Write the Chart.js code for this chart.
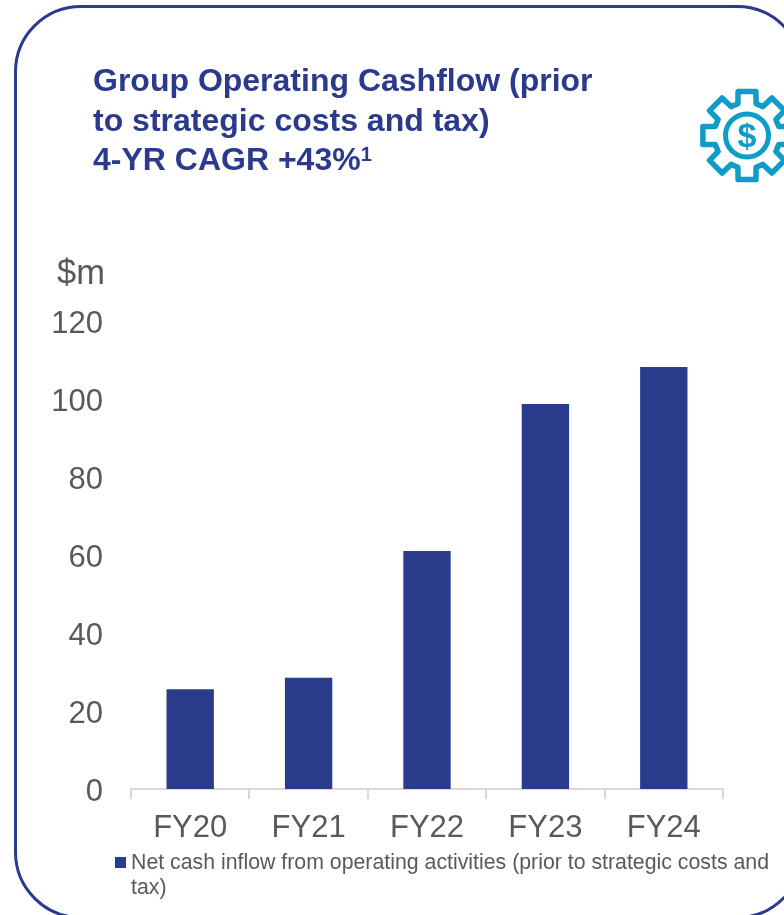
<!DOCTYPE html>
<html>
<head>
<meta charset="utf-8">
<script src="https://cdn.jsdelivr.net/npm/chart.js@4"></script>
<style>
html, body { margin: 0; padding: 0; background: #fff; }
body { width: 784px; height: 915px; position: relative; overflow: hidden; font-family: "Liberation Sans", Arial, sans-serif; }
#frame { position: absolute; left: 14px; top: 5px; width: 790px; height: 914px; border: 3px solid #2b3a8c; border-radius: 67px; box-sizing: border-box; }
#titulo { position: absolute; left: 93px; top: 61px; font-size: 32px; line-height: 39.5px; font-weight: bold; color: #2b3a8c; white-space: nowrap; }
#titulo sup { font-size: 20px; line-height: 0; vertical-align: baseline; position: relative; top: -9px; }
#unidad { position: absolute; left: 57px; top: 253px; font-size: 34.5px; color: #595959; }
#grafico { position: absolute; left: 0; top: 0; }
#icono { position: absolute; left: 680px; top: 70px; }
#leyenda { position: absolute; left: 131px; top: 850px; width: 645px; font-size: 21.3px; line-height: 25px; color: #595959; }
#leyenda i { position: absolute; left: -16px; top: 7px; width: 11px; height: 11px; }
</style>
</head>
<body>
<div id="frame"></div>
<canvas id="grafico" width="784" height="915"></canvas>
<div id="titulo">Group Operating Cashflow (prior<br>to strategic costs and tax)<br>4-YR CAGR +43%<sup>1</sup></div>
<div id="unidad">$m</div>
<svg id="icono" width="104" height="130" viewBox="0 0 104 130">
  <path id="engranaje" fill="none" stroke="#0f9dc7" stroke-width="5.5" stroke-linejoin="round"></path>
  <circle cx="67" cy="65.5" r="21.5" fill="none" stroke="#0f9dc7" stroke-width="5"></circle>
  <text x="67" y="77" text-anchor="middle" font-family="Liberation Sans" font-weight="bold" font-size="34" fill="#0f9dc7">$</text>
</svg>
<div id="leyenda"></div>

<script>
const categorias = ['FY20', 'FY21', 'FY22', 'FY23', 'FY24'];
const flujoOperativo = [25.6, 28.5, 61, 98.7, 108.2];
const nombreSerie = 'Net cash inflow from operating activities (prior to strategic costs and tax)';
const azul = '#2a3b8b';
const gris = '#595959';
const lineaEje = '#d9d9d9';

// el contorno del engranaje, ocho dientes
function dibujarEngranaje() {
    const cx = 67, cy = 65.5, rExt = 45, rInt = 33;
    let d = '';
    for (let i = 0; i < 8; i++) {
        const a = i * Math.PI / 4 - Math.PI / 2;
        const punto = (r, da) => (cx + r * Math.cos(a + da)).toFixed(1) + ' ' + (cy + r * Math.sin(a + da)).toFixed(1);
        d += (i === 0 ? 'M' : 'L') + punto(rInt, -0.28) + 'L' + punto(rExt, -0.2) + 'L' + punto(rExt, 0.2) + 'L' + punto(rInt, 0.28);
    }
    document.getElementById('engranaje').setAttribute('d', d + 'Z');
}
dibujarEngranaje();

document.getElementById('leyenda').innerHTML = '<i style="background:' + azul + '"></i>' + nombreSerie;

const ctx = document.getElementById('grafico').getContext('2d');

new Chart(ctx, {
    type: 'bar',
    data: {
        labels: categorias,
        datasets: [{
            label: nombreSerie,
            data: flujoOperativo,
            backgroundColor: azul,
            barPercentage: 0.4,
            categoryPercentage: 1
        }]
    },
    options: {
        responsive: false,
        animation: false,
        layout: { padding: { top: 321, right: 61 } },
        plugins: {
            legend: { display: false },
            title: { display: false },
            tooltip: { enabled: false }
        },
        scales: {
            x: {
                grid: { display: true, drawOnChartArea: false, color: lineaEje, lineWidth: 2, tickLength: 10, offset: true },
                border: { color: lineaEje, width: 2 },
                ticks: {
                    color: gris,
                    font: { family: 'Liberation Sans', size: 31 },
                    maxRotation: 0,
                    padding: 11
                },
                afterFit: (escala) => { escala.height = 126; }
            },
            y: {
                min: 0,
                max: 120,
                grid: { display: false },
                border: { display: false },
                ticks: {
                    stepSize: 20,
                    color: gris,
                    font: { family: 'Liberation Sans', size: 31 },
                    padding: 20
                },
                afterFit: (escala) => {
                    escala.width = 131;
                    if (escala.etiquetasBajadas) return;
                    escala.etiquetasBajadas = true;
                    // las etiquetas van 3px mas abajo que la marca
                    const calcular = escala._computeLabelItems;
                    escala._computeLabelItems = function (area) {
                        const items = calcular.call(this, area);
                        items.forEach((item) => { item.options.translation[1] += 3; });
                        return items;
                    };
                }
            }
        }
    }
});
</script>
</body>
</html>
